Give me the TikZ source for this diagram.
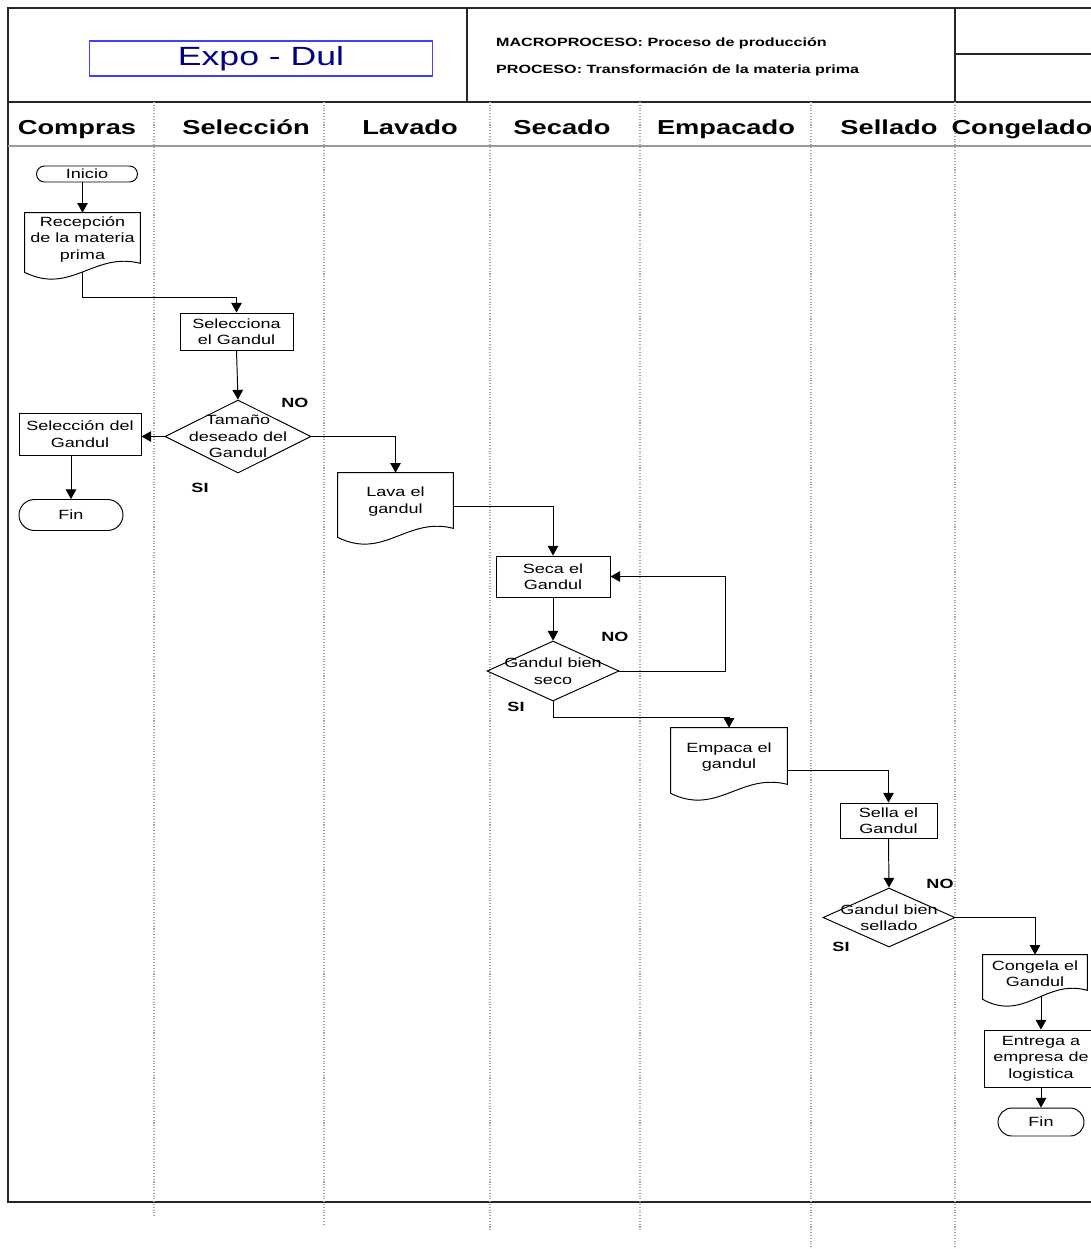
\documentclass[tikz,border=0pt]{standalone}
\usepackage{fontspec}
\newfontfamily\flowfont{Liberation Sans}[FakeStretch=1.35]
\usepackage{tikz}
\usetikzlibrary{arrows.meta, positioning, calc, shapes.geometric, shapes.misc}
\definecolor{exponavy}{RGB}{0, 0, 128}
\definecolor{expoblue}{RGB}{64, 64, 255}

\begin{document}
\begin{tikzpicture}[x=0.02cm, y=-0.02cm,
    every node/.style={font=\flowfont\fontsize{7.6}{9.4}\selectfont, align=center, inner sep=1pt},
    frame/.style={line width=0.8pt, black!85},
    lane/.style={densely dotted, line width=0.6pt, gray!70},
    flow/.style={-{Triangle[length=5.5pt, width=6pt]}, line width=0.55pt},
    box/.style={draw, line width=0.55pt},
    term/.style={draw, rounded rectangle, line width=0.55pt, inner sep=0pt},
    decision/.style={draw, diamond, line width=0.55pt, inner sep=0pt},
    doc/.style={inner sep=0pt},
    lanehead/.style={font=\flowfont\bfseries\fontsize{11.5}{13}\selectfont, anchor=base},
    tag/.style={font=\flowfont\bfseries\fontsize{7.6}{9.4}\selectfont}]
    \useasboundingbox (0,0) rectangle (1091,1249);

    % marco y encabezado
    \draw[frame] (1100,8) -- (8,8) -- (8,1202) -- (1100,1202);
    \draw[frame] (8,102) -- (1100,102);
    \draw[frame, gray!80] (8,146) -- (1100,146);
    \draw[frame] (467,8) -- (467,102);
    \draw[frame] (955,8) -- (955,102);
    \draw[frame] (955,54) -- (1100,54);
    \node[draw=expoblue, line width=0.6pt, minimum width=6.88cm, minimum height=0.7cm,
          text=exponavy, font=\flowfont\fontsize{15}{17}\selectfont] (expo) at (261,58.5) {Expo - Dul};
    \node[anchor=west, font=\flowfont\bfseries\fontsize{6.8}{8}\selectfont] (macro) at (494,43) {MACROPROCESO: Proceso de producción};
    \node[anchor=west, font=\flowfont\bfseries\fontsize{6.8}{8}\selectfont] (proceso) at (494,70) {PROCESO: Transformación de la materia prima};

    % carriles
    \foreach \x/\e in {154/1218, 324/1226, 490/1232, 640/1232, 811/1249, 955/1249} {
        \draw[lane] (\x,102) -- (\x,\e);
    }
    \foreach \x/\t [count=\k] in {77/Compras, 246/Selección, 410/Lavado, 562/Secado, 726/Empacado, 889/Sellado, 1022/Congelado} {
        \node[lanehead] (head\k) at (\x,134) {\t};
    }

    % Compras
    \node[term, minimum width=2.02cm, minimum height=0.32cm] (inicio) at (87,174) {Inicio};
    \node[doc, minimum width=2.3cm, minimum height=1.04cm] (recep) at (82.5,239) {Recepción\\de la materia\\prima};
    \node[box, minimum width=2.44cm, minimum height=0.84cm] (selgan) at (80,434) {Selección del\\Gandul};
    \node[term, minimum width=2.08cm, minimum height=0.62cm] (fin1) at (71,515) {Fin};

    % Selección
    \node[box, minimum width=2.26cm, minimum height=0.74cm] (selec) at (236.5,331.5) {Selecciona\\el Gandul};
    \node[decision, minimum width=2.92cm, minimum height=1.46cm] (tam) at (238,436.5) {};
    \node (tamtxt) at (tam) {Tamaño\\deseado del\\Gandul};
    \node[tag] (no1) at (295,403) {NO};
    \node[tag] (si1) at (200,488) {SI};

    % Lavado
    \node[doc, minimum width=2.3cm, minimum height=1.14cm] (lava) at (395.5,501.5) {Lava el\\gandul};

    % Secado
    \node[box, minimum width=2.28cm, minimum height=0.82cm] (seca) at (553,576.5) {Seca el\\Gandul};
    \node[decision, minimum width=2.64cm, minimum height=1.2cm] (seco) at (553,671) {};
    \node (secotxt) at (seco) {Gandul bien\\seco};
    \node[tag] (no2) at (615,637) {NO};
    \node[tag] (si2) at (516,707) {SI};

    % Empacado
    \node[doc, minimum width=2.32cm, minimum height=1.16cm] (empaca) at (729,757) {Empaca el\\gandul};

    % Sellado
    \node[box, minimum width=1.94cm, minimum height=0.7cm] (sella) at (888.5,820.5) {Sella el\\Gandul};
    \node[decision, minimum width=2.64cm, minimum height=1.18cm] (sellado) at (889,917.5) {};
    \node (selladotxt) at (sellado) {Gandul bien\\sellado};
    \node[tag] (no3) at (940,884) {NO};
    \node[tag] (si3) at (841,947) {SI};

    % Congelado
    \node[doc, minimum width=2.08cm, minimum height=0.74cm] (congela) at (1035,973.5) {Congela el\\Gandul};
    \node[box, minimum width=2.28cm, minimum height=1.14cm] (entrega) at (1041,1058.5) {Entrega a\\empresa de\\logistica};
    \node[term, minimum width=1.72cm, minimum height=0.56cm] (fin2) at (1041,1122) {Fin};

    % documentos
    \foreach \d in {recep, lava, empaca, congela} {
        \draw[line width=0.55pt] (\d.north west) -- (\d.north east) -- ($(\d.south east)+(0,-2)$)
            .. controls ($(\d.south west)!0.6!(\d.south east)+(0,-14)$) and ($(\d.south west)!0.4!(\d.south east)+(0,30)$)
            .. ($(\d.south west)+(0,7)$) -- cycle;
    }

    % flechas
    \draw[flow] (recep.north |- inicio.south) -- (recep.north);
    \draw[flow] ($(recep.south)+(0,6.6)$) |- ($(selec.north)+(0,-15)$) -- (selec.north);
    \draw[flow] (selec.south) -- (tam.north);
    \draw[flow] (tam.west) -- (tam.west -| selgan.east);
    \draw[flow] (fin1.north |- selgan.south) -- (fin1.north);
    \draw[flow] (tam.east) -| (lava.north);
    \draw[flow] ($(lava.east)+(0,5)$) -| (seca.north);
    \draw[flow] (seca.south) -- (seco.north);
    \draw[flow] (seco.east) -- ++(106,0) |- (seca.east);
    \draw[flow] (seco.south) -- ++(0,16) -| (empaca.north);
    \draw[flow] ($(empaca.east)+(0,13)$) -| (sella.north);
    \draw[flow] (sella.south) -- (sellado.north);
    \draw[flow] (sellado.east) -| (congela.north);
    \draw[flow] ($(entrega.north |- congela.south)+(0,4)$) -- (entrega.north);
    \draw[flow] (entrega.south) -- (fin2.north);
\end{tikzpicture}
\end{document}
